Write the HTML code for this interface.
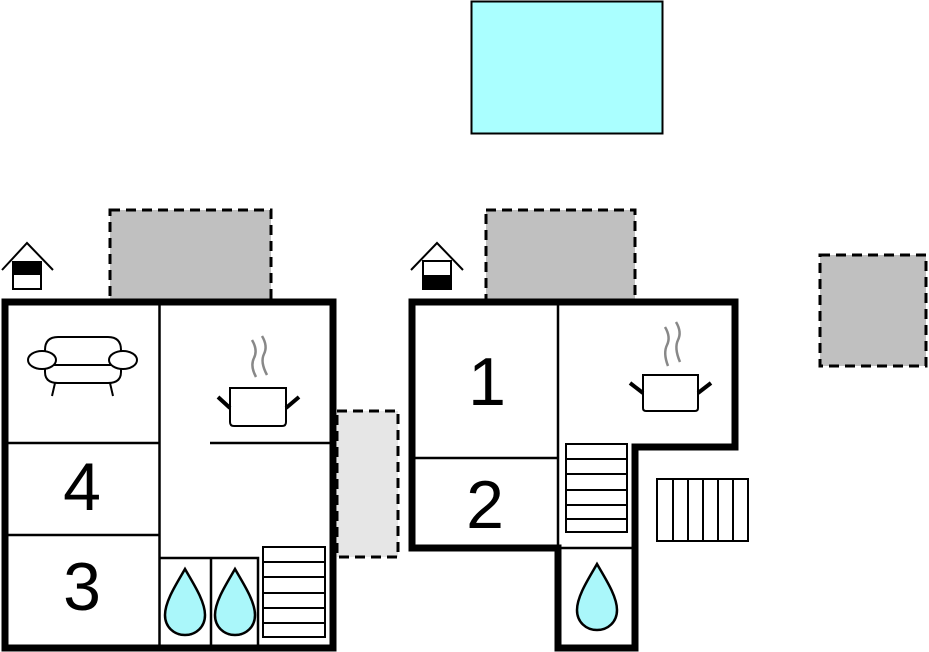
<!DOCTYPE html>
<html><head><style>html,body{margin:0;padding:0;background:#fff}svg{display:block}</style></head><body>
<svg width="929" height="652" viewBox="0 0 929 652" xmlns="http://www.w3.org/2000/svg" font-family="Liberation Sans, sans-serif">
<defs>
<g id="drop"><path d="M0,-34 C8,-20 20,-2 20,12 C20,24 11,32 0,32 C-11,32 -20,24 -20,12 C-20,-2 -8,-20 0,-34 Z" fill="#aaf7fa" stroke="#000" stroke-width="2.5"/></g>
</defs>
<rect x="471.5" y="1.5" width="191" height="132" fill="#aaffff" stroke="#000" stroke-width="2"/>
<rect x="110" y="210" width="161" height="90" fill="#c0c0c0" stroke="#000" stroke-width="3" stroke-dasharray="10,6"/>
<rect x="486" y="210" width="149" height="90" fill="#c0c0c0" stroke="#000" stroke-width="3" stroke-dasharray="10,6"/>
<rect x="820" y="255" width="106" height="111" fill="#c0c0c0" stroke="#000" stroke-width="3" stroke-dasharray="10,6"/>
<rect x="337" y="411" width="61" height="146" fill="#e6e6e6" stroke="#000" stroke-width="3" stroke-dasharray="10,6"/>
<polyline points="2,270 27,243 53,270" fill="none" stroke="#000" stroke-width="2"/>
<rect x="13" y="262" width="28" height="27" fill="#fff" stroke="#000" stroke-width="2"/>
<rect x="13" y="262" width="28" height="13" fill="#000"/>
<polyline points="411,270 437,243 463,270" fill="none" stroke="#000" stroke-width="2"/>
<rect x="423" y="261" width="28" height="28" fill="#fff" stroke="#000" stroke-width="2"/>
<rect x="423" y="275" width="28" height="14" fill="#000"/>
<rect x="5" y="302" width="328" height="346" fill="#fff" stroke="#000" stroke-width="7"/>
<g stroke="#000" stroke-width="2.5" fill="none">
<line x1="159.5" y1="302" x2="159.5" y2="648"/>
<line x1="5" y1="443" x2="159" y2="443"/>
<line x1="5" y1="535" x2="159" y2="535"/>
<line x1="210" y1="443" x2="330" y2="443"/>
<polyline points="160,558 258,558 258,648"/>
<line x1="211" y1="558" x2="211" y2="648"/>
<rect x="263" y="547" width="62" height="90" stroke-width="2"/>
<g stroke-width="2"><line x1="263" y1="562" x2="325" y2="562"/><line x1="263" y1="577" x2="325" y2="577"/><line x1="263" y1="593" x2="325" y2="593"/><line x1="263" y1="608" x2="325" y2="608"/><line x1="263" y1="623" x2="325" y2="623"/></g>
</g>
<use href="#drop" x="185" y="603"/>
<use href="#drop" x="235" y="603"/>
<g stroke="#000" stroke-width="2" fill="#fff">
<path d="M45,365 L45,350 Q45,337 58,337 L108,337 Q121,337 121,350 L121,365"/>
<path d="M45,365 L45,372 Q45,383 58,383 L108,383 Q121,383 121,372 L121,365"/>
<line x1="55" y1="383" x2="52" y2="396"/><line x1="110" y1="383" x2="113" y2="396"/>
<line x1="52" y1="365" x2="114" y2="365"/>
<ellipse cx="42" cy="360" rx="14" ry="9"/>
<ellipse cx="123" cy="360" rx="14" ry="9"/>
</g>
<g stroke="#000" fill="#fff">
<path d="M230,388 L286,388 L286,422 Q286,426 282,426 L234,426 Q230,426 230,422 Z" stroke-width="2"/>
<line x1="218" y1="397" x2="230" y2="408" stroke-width="4"/>
<line x1="299" y1="397" x2="286" y2="408" stroke-width="4"/>
<path d="M252,340 Q258,350 254,358 Q250,366 256,377" fill="none" stroke="#888" stroke-width="2.5"/>
<path d="M262,336 Q268,346 264,354 Q260,362 267,375" fill="none" stroke="#888" stroke-width="2.5"/>
</g>
<text x="82" y="510" font-size="68" text-anchor="middle">4</text>
<text x="82" y="610" font-size="68" text-anchor="middle">3</text>
<polygon points="412,302 735,302 735,447 635,447 635,648 558,648 558,548 412,548" fill="#fff" stroke="#000" stroke-width="7"/>
<g stroke="#000" stroke-width="2.5" fill="none">
<line x1="558" y1="302" x2="558" y2="548"/>
<line x1="412" y1="458" x2="558" y2="458"/>
<line x1="558" y1="548" x2="635" y2="548"/>
<rect x="566" y="444" width="61" height="88" stroke-width="2"/>
<g stroke-width="2"><line x1="566" y1="459" x2="627" y2="459"/><line x1="566" y1="474" x2="627" y2="474"/><line x1="566" y1="490" x2="627" y2="490"/><line x1="566" y1="505" x2="627" y2="505"/><line x1="566" y1="519" x2="627" y2="519"/></g>
<rect x="657" y="479" width="91" height="62" stroke-width="2"/>
<g stroke-width="2"><line x1="673" y1="479" x2="673" y2="541"/><line x1="688" y1="479" x2="688" y2="541"/><line x1="703" y1="479" x2="703" y2="541"/><line x1="718" y1="479" x2="718" y2="541"/><line x1="733" y1="479" x2="733" y2="541"/></g>
</g>
<use href="#drop" x="597" y="598"/>
<g stroke="#000" fill="#fff">
<path d="M643,375 L698,375 L698,408 Q698,411 695,411 L646,411 Q643,411 643,408 Z" stroke-width="2"/>
<line x1="630" y1="383" x2="643" y2="393" stroke-width="4"/>
<line x1="711" y1="383" x2="698" y2="393" stroke-width="4"/>
<path d="M665,327 Q671,337 667,345 Q663,353 668,366" fill="none" stroke="#888" stroke-width="2.5"/>
<path d="M676,322 Q682,332 678,340 Q674,348 680,362" fill="none" stroke="#888" stroke-width="2.5"/>
</g>
<text x="487" y="405" font-size="68" text-anchor="middle">1</text>
<text x="485" y="528" font-size="68" text-anchor="middle">2</text>
</svg>
</body></html>
